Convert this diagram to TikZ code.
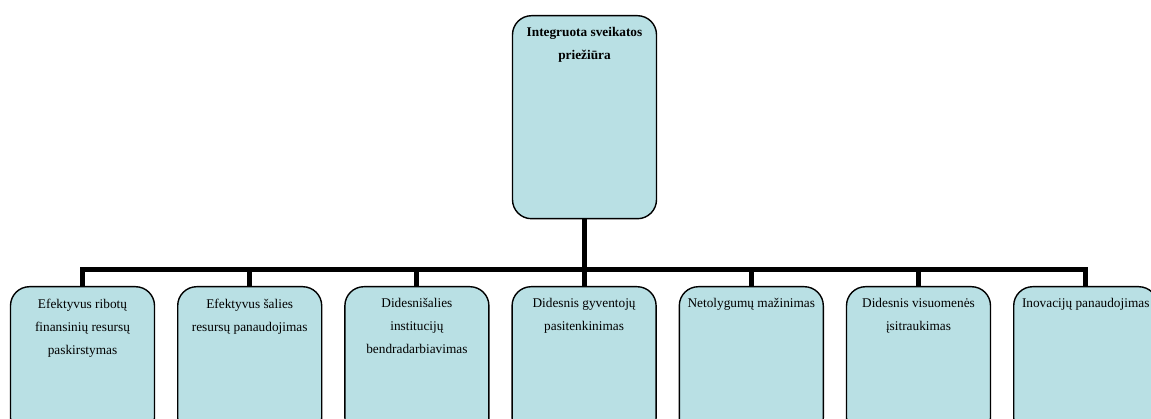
\documentclass[tikz,border=0pt]{standalone}
\usepackage{fontspec}
\setmainfont{Liberation Serif}
\definecolor{boxfill}{RGB}{185,224,228}
\newcommand{\boxtext}[2]{\parbox[t][#1][t]{144pt}{\centering\fontsize{13.3}{23}\selectfont\vspace*{12pt}#2\par}}
\tikzset{
  orgbox/.style={draw=black, line width=1.4pt, fill=boxfill, rounded corners=19pt,
    rectangle, inner sep=0pt, anchor=north},
  conn/.style={draw=black, line width=5pt, line join=miter}
}
\begin{document}
\begin{tikzpicture}[x=1pt,y=-1pt]
\useasboundingbox (0,0) rectangle (1151,419);
\clip (0,0) rectangle (1151,419);
\node[orgbox] (top) at (584.5,15) {\boxtext{203pt}{\bfseries Integruota sveikatos\\prie\v{z}i\={u}ra}};
\node[orgbox] (b1) at (82.5,286) {\boxtext{150pt}{Efektyvus ribotų\\finansinių resursų\\paskirstymas}};
\node[orgbox] (b2) at (249.7,286) {\boxtext{150pt}{Efektyvus šalies\\resursų panaudojimas}};
\node[orgbox] (b3) at (416.9,286) {\boxtext{150pt}{Didesnišalies\\institucijų\\bendradarbiavimas}};
\node[orgbox] (b4) at (584.1,286) {\boxtext{150pt}{Didesnis gyventojų\\pasitenkinimas}};
\node[orgbox] (b5) at (751.3,286) {\boxtext{150pt}{Netolygumų mažinimas}};
\node[orgbox] (b6) at (918.5,286) {\boxtext{150pt}{Didesnis visuomenės\\įsitraukimas}};
\node[orgbox] (b7) at (1085.7,286) {\boxtext{150pt}{Inovacijų panaudojimas}};
\coordinate (busL) at (82.5,270);
\draw[conn] (b1.north) -- (b1.north |- busL) -- (b7.north |- busL) -- (b7.north);
\draw[conn] (top.south) -- (top.south |- busL);
\foreach \n in {b2,b3,b4,b5,b6} {
  \draw[conn] (\n.north) -- (\n.north |- busL);
}
\end{tikzpicture}
\end{document}
